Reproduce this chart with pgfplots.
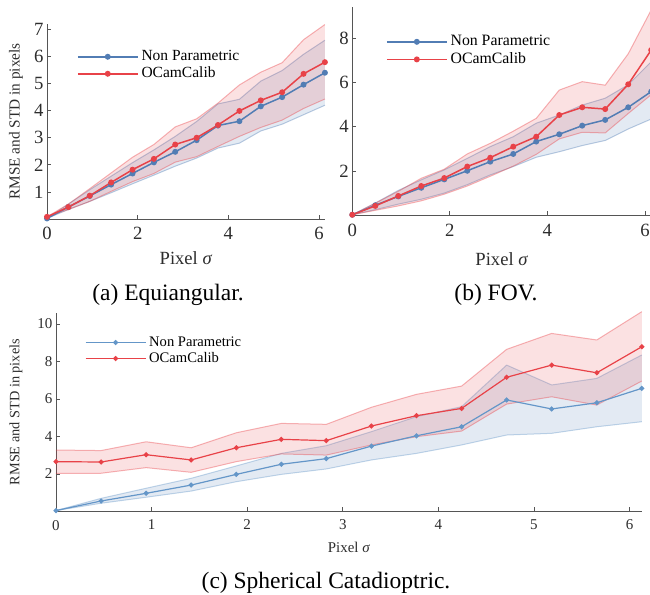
\documentclass[border=0pt]{standalone}
\usepackage{fontspec}
\setmainfont{Liberation Serif}
\usepackage{pgfplots}
\pgfplotsset{compat=1.18}
\usepackage{pgfplotstable}
\definecolor{npblue}{RGB}{82,125,180}
\definecolor{npblueL}{RGB}{100,150,200}
\definecolor{ocred}{RGB}{232,66,72}
\definecolor{axgray}{RGB}{85,85,85}
\definecolor{txtgray}{RGB}{45,45,45}

\pgfplotstableread{
x np npu npl oc ocu ocl
0.000 0.02 0.02 0.02 0.08 0.08 0.08
0.471 0.44 0.55 0.35 0.44 0.55 0.35
0.943 0.85 1.08 0.65 0.86 1.12 0.65
1.414 1.27 1.58 0.97 1.35 1.70 1.02
1.886 1.68 2.08 1.30 1.82 2.28 1.38
2.357 2.09 2.55 1.62 2.22 2.75 1.68
2.828 2.48 3.05 1.95 2.75 3.40 2.10
3.300 2.91 3.60 2.25 3.00 3.70 2.30
3.771 3.45 4.25 2.62 3.47 4.28 2.68
4.243 3.61 4.42 2.80 3.99 4.95 3.05
4.714 4.16 5.09 3.25 4.38 5.42 3.38
5.185 4.50 5.48 3.50 4.68 5.77 3.65
5.657 4.96 6.08 3.85 5.36 6.62 4.08
6.128 5.40 6.60 4.20 5.79 7.18 4.43
}\tabA

\pgfplotstableread{
x np npu npl oc ocu ocl
0.000 0.02 0.02 0.02 0.02 0.02 0.02
0.471 0.45 0.55 0.25 0.42 0.54 0.22
0.943 0.85 1.12 0.50 0.87 1.08 0.42
1.414 1.24 1.60 0.72 1.32 1.67 0.65
1.886 1.62 2.05 1.00 1.68 2.08 0.95
2.357 2.01 2.57 1.38 2.20 2.77 1.32
2.828 2.42 3.10 1.82 2.60 3.25 1.76
3.300 2.77 3.55 2.20 3.10 3.80 2.22
3.771 3.33 4.16 2.62 3.55 4.38 2.75
4.243 3.66 4.53 2.87 4.53 5.66 3.45
4.714 4.05 4.98 3.15 4.88 6.04 3.75
5.185 4.31 5.29 3.38 4.80 5.88 3.72
5.657 4.88 5.90 3.90 5.92 7.30 4.60
6.128 5.59 6.94 4.35 7.47 9.28 5.45
}\tabB

\pgfplotstableread{
x np npu npl oc ocu ocl
0.000 0.05 0.05 0.05 2.66 3.28 2.04
0.471 0.56 0.70 0.44 2.64 3.25 2.04
0.943 0.97 1.24 0.76 3.03 3.72 2.34
1.414 1.41 1.77 1.09 2.75 3.40 2.09
1.886 1.98 2.43 1.59 3.40 4.20 2.66
2.357 2.52 3.10 1.98 3.85 4.70 3.07
2.828 2.82 3.51 2.27 3.78 4.65 3.01
3.300 3.49 4.26 2.75 4.56 5.56 3.55
3.771 4.04 5.06 3.10 5.11 6.25 3.99
4.243 4.52 5.59 3.55 5.50 6.69 4.29
4.714 5.95 7.81 4.08 7.16 8.65 5.73
5.185 5.47 6.75 4.17 7.81 9.50 6.12
5.657 5.80 7.10 4.52 7.40 9.15 5.68
6.128 6.57 8.35 4.79 8.79 10.66 6.96
}\tabC

\pgfplotsset{
  mystyle/.style={
    scale only axis, axis lines=left,
    axis line style={-, axgray, line width=0.8pt},
    tick align=inside, major tick length=4pt,
    tick style={axgray, line width=0.8pt},
    xmin=0, xmax=6.13, ymin=0,
    clip=false,
    /pgf/number format/assume math mode=true,
    ticklabel style={text=txtgray},
    xticklabel style={yshift=-5pt},
    label style={text=txtgray},
    legend cell align=left,
    legend style={draw=none, fill=none, anchor=north west, inner sep=0pt, outer sep=0pt,
      row sep=1pt, text=black,
      nodes={inner ysep=0pt, inner xsep=3pt, text height=12pt, text depth=4pt}},
    legend image code/.code={\draw[mark repeat=2, mark phase=2, ##1] plot coordinates {(0pt,0pt) (30pt,0pt) (60pt,0pt)};},
  },
  bandline/.style={draw=#1, draw opacity=0.4, line width=1pt, forget plot},
  bandfill/.style={fill=#1, fill opacity=0.16, draw=none, forget plot},
}

\begin{document}
\begin{tikzpicture}
\useasboundingbox (0pt,0pt) rectangle (650pt,594pt);

% (a)
\begin{axis}[mystyle,
  at={(47pt,375pt)}, anchor=south west,
  width=278pt, height=195pt, ymax=7.2,
  xtick={0,2,4,6}, ytick={1,2,3,4,5,6,7},
  ticklabel style={font=\fontsize{18.7}{20}\selectfont},
  xlabel={Pixel \textit{σ}},
  xlabel style={font=\fontsize{18.6}{20}\selectfont, at={(axis description cs:0.5,0)}, anchor=base, yshift=-46pt},
  ylabel={RMSE and STD in pixels},
  ylabel style={font=\fontsize{15.3}{17}\selectfont, at={(axis description cs:-0.1115,0.5)}, anchor=center},
  legend style={at={(axis description cs:0.108,0.873)}, font=\fontsize{15.5}{17}\selectfont},
]
\addplot[bandfill=npblue] coordinates {(0,0.02)(0.471,0.55)(0.943,1.08)(1.414,1.58)(1.886,2.08)(2.357,2.55)(2.828,3.05)(3.300,3.60)(3.771,4.25)(4.243,4.42)(4.714,5.09)(5.185,5.48)(5.657,6.08)(6.128,6.60)
 (6.128,4.20)(5.657,3.85)(5.185,3.50)(4.714,3.25)(4.243,2.80)(3.771,2.62)(3.300,2.25)(2.828,1.95)(2.357,1.62)(1.886,1.30)(1.414,0.97)(0.943,0.65)(0.471,0.35)(0,0.02)};
\addplot[bandline=npblue] table[x=x,y=npu]{\tabA};
\addplot[bandline=npblue] table[x=x,y=npl]{\tabA};
\addplot[bandfill=ocred] coordinates {(0,0.08)(0.471,0.55)(0.943,1.12)(1.414,1.70)(1.886,2.28)(2.357,2.75)(2.828,3.40)(3.300,3.70)(3.771,4.28)(4.243,4.95)(4.714,5.42)(5.185,5.77)(5.657,6.62)(6.128,7.18)
 (6.128,4.43)(5.657,4.08)(5.185,3.65)(4.714,3.38)(4.243,3.05)(3.771,2.68)(3.300,2.30)(2.828,2.10)(2.357,1.68)(1.886,1.38)(1.414,1.02)(0.943,0.65)(0.471,0.35)(0,0.08)};
\addplot[bandline=ocred] table[x=x,y=ocu]{\tabA};
\addplot[bandline=ocred] table[x=x,y=ocl]{\tabA};
\addplot[npblue, line width=1.5pt, mark=*, mark size=2.2pt] table[x=x,y=np]{\tabA};
\addplot[ocred, line width=1.5pt, mark=*, mark size=2.2pt] table[x=x,y=oc]{\tabA};
\legend{Non Parametric, OCamCalib}
\end{axis}

% (b)
\begin{axis}[mystyle,
  at={(352.3pt,378.8pt)}, anchor=south west,
  width=299pt, height=208.5pt, ymax=9.43,
  xtick={0,2,4,6}, ytick={2,4,6,8},
  ticklabel style={font=\fontsize{18.7}{20}\selectfont},
  xlabel={Pixel \textit{σ}},
  xlabel style={font=\fontsize{18.6}{20}\selectfont, at={(axis description cs:0.5,0)}, anchor=base, yshift=-50pt},
  legend style={at={(axis description cs:0.113,0.870)}, font=\fontsize{15.8}{17}\selectfont,
    row sep=1.6pt},
]
\addplot[bandfill=npblue] coordinates {(0,0.02)(0.471,0.55)(0.943,1.12)(1.414,1.60)(1.886,2.05)(2.357,2.57)(2.828,3.10)(3.300,3.55)(3.771,4.16)(4.243,4.53)(4.714,4.98)(5.185,5.29)(5.657,5.90)(6.128,6.94)
 (6.128,4.35)(5.657,3.90)(5.185,3.38)(4.714,3.15)(4.243,2.87)(3.771,2.62)(3.300,2.20)(2.828,1.82)(2.357,1.38)(1.886,1.00)(1.414,0.72)(0.943,0.50)(0.471,0.25)(0,0.02)};
\addplot[bandline=npblue] table[x=x,y=npu]{\tabB};
\addplot[bandline=npblue] table[x=x,y=npl]{\tabB};
\addplot[bandfill=ocred] coordinates {(0,0.02)(0.471,0.54)(0.943,1.08)(1.414,1.67)(1.886,2.08)(2.357,2.77)(2.828,3.25)(3.300,3.80)(3.771,4.38)(4.243,5.66)(4.714,6.04)(5.185,5.88)(5.657,7.30)(6.128,9.28)
 (6.128,5.45)(5.657,4.60)(5.185,3.72)(4.714,3.75)(4.243,3.45)(3.771,2.75)(3.300,2.22)(2.828,1.76)(2.357,1.32)(1.886,0.95)(1.414,0.65)(0.943,0.42)(0.471,0.22)(0,0.02)};
\addplot[bandline=ocred] table[x=x,y=ocu]{\tabB};
\addplot[bandline=ocred] table[x=x,y=ocl]{\tabB};
\addplot[npblue, line width=1.5pt, mark=*, mark size=2.2pt] table[x=x,y=np]{\tabB};
\addplot[ocred, line width=1.5pt, mark=*, mark size=2.2pt] table[x=x,y=oc]{\tabB};
\legend{Non Parametric, OCamCalib}
\end{axis}

% (c)
\begin{axis}[mystyle,
  at={(56pt,82.5pt)}, anchor=south west,
  width=586pt, height=198.7pt, ymax=10.6,
  xtick={0,1,2,3,4,5,6}, ytick={2,4,6,8,10},
  ticklabel style={font=\fontsize{15}{17}\selectfont},
  xlabel={Pixel \textit{σ}},
  xlabel style={font=\fontsize{14.9}{17}\selectfont, at={(axis description cs:0.5,0)}, anchor=base, yshift=-40.5pt},
  ylabel={RMSE and STD in pixels},
  ylabel style={font=\fontsize{14.3}{16}\selectfont, at={(axis description cs:-0.0683,0.5)}, anchor=center},
  legend style={at={(axis description cs:0.0495,0.888)}, font=\fontsize{14.6}{16}\selectfont,
    row sep=1pt, nodes={text height=11.5pt, text depth=3.5pt}},
]
\addplot[bandfill=npblue] coordinates {(0,0.05)(0.471,0.70)(0.943,1.24)(1.414,1.77)(1.886,2.43)(2.357,3.10)(2.828,3.51)(3.300,4.26)(3.771,5.06)(4.243,5.59)(4.714,7.81)(5.185,6.75)(5.657,7.10)(6.128,8.35)
 (6.128,4.79)(5.657,4.52)(5.185,4.17)(4.714,4.08)(4.243,3.55)(3.771,3.10)(3.300,2.75)(2.828,2.27)(2.357,1.98)(1.886,1.59)(1.414,1.09)(0.943,0.76)(0.471,0.44)(0,0.05)};
\addplot[bandline=npblueL] table[x=x,y=npu]{\tabC};
\addplot[bandline=npblueL] table[x=x,y=npl]{\tabC};
\addplot[bandfill=ocred] coordinates {(0,3.28)(0.471,3.25)(0.943,3.72)(1.414,3.40)(1.886,4.20)(2.357,4.70)(2.828,4.65)(3.300,5.56)(3.771,6.25)(4.243,6.69)(4.714,8.65)(5.185,9.50)(5.657,9.15)(6.128,10.66)
 (6.128,6.96)(5.657,5.68)(5.185,6.12)(4.714,5.73)(4.243,4.29)(3.771,3.99)(3.300,3.55)(2.828,3.01)(2.357,3.07)(1.886,2.66)(1.414,2.09)(0.943,2.34)(0.471,2.04)(0,2.04)};
\addplot[bandline=ocred] table[x=x,y=ocu]{\tabC};
\addplot[bandline=ocred] table[x=x,y=ocl]{\tabC};
\addplot[npblueL, line width=1.2pt, mark=*, mark size=1.9pt] table[x=x,y=np]{\tabC};
\addplot[ocred, line width=1.2pt, mark=*, mark size=1.9pt] table[x=x,y=oc]{\tabC};
\legend{Non Parametric, OCamCalib}
\end{axis}

\node[anchor=base, font=\fontsize{23.5}{28}\selectfont] at (168pt,293pt) {(a) Equiangular.};
\node[anchor=base, font=\fontsize{23.5}{28}\selectfont] at (496pt,293pt) {(b) FOV.};
\node[anchor=base, font=\fontsize{23.5}{28}\selectfont] at (326pt,6pt) {(c) Spherical Catadioptric.};
\end{tikzpicture}
\end{document}
